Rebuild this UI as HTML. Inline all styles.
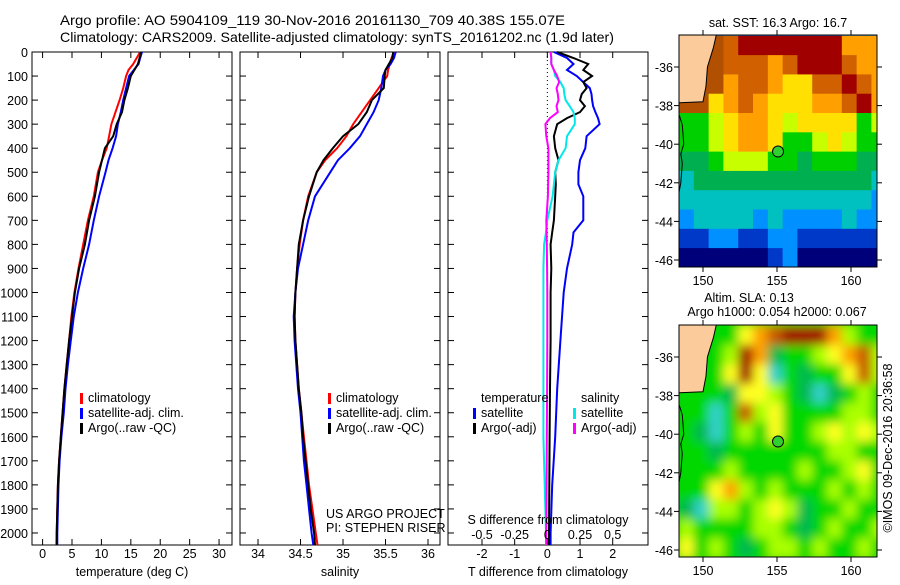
<!DOCTYPE html>
<html><head><meta charset="utf-8"><style>
body{margin:0;background:#fff}
svg text{font-family:"Liberation Sans",sans-serif;font-size:12.5px;fill:#000}
</style></head><body>
<svg id="fig" width="900" height="580" xmlns="http://www.w3.org/2000/svg">
<rect width="900" height="580" fill="#fff"/>
<text x="60" y="25" textLength="505" lengthAdjust="spacingAndGlyphs" style="font-size:14px">Argo profile: AO 5904109_119 30-Nov-2016 20161130_709 40.38S 155.07E</text>
<text x="60" y="42" textLength="554" lengthAdjust="spacingAndGlyphs" style="font-size:14px">Climatology: CARS2009. Satellite-adjusted climatology: synTS_20161202.nc (1.9d later)</text>
<g id="g"></g>
</svg>
<script>
// ---------- data ----------
const depthT = [0,25,50,75,100,150,200,250,300,350,400,450,500,600,700,800,900,1000,1100,1200,1300,1400,1500,1600,1700,1800,1900,2000,2050];
const tempClim = [16.6,16.0,15.4,14.6,14.2,13.7,13.1,12.4,11.7,11.3,10.9,10.1,9.4,8.7,7.7,6.9,6.1,5.4,4.9,4.5,4.1,3.7,3.4,3.1,2.8,2.6,2.5,2.4,2.35];
const tempSat = [16.9,16.6,16.3,15.5,14.7,14.2,13.7,13.3,12.8,12.5,11.9,11.2,10.7,9.6,8.7,7.9,6.9,6.0,5.3,4.8,4.3,3.9,3.6,3.2,2.9,2.7,2.6,2.5,2.5];
const tempArgo = [16.7,16.5,16.2,15.6,15.0,14.5,13.9,13.5,12.6,12.0,10.6,10.1,9.6,8.9,7.9,7.2,6.2,5.5,5.0,4.5,4.1,3.7,3.4,3.1,2.8,2.6,2.5,2.4,2.4];
const salClim = [35.60,35.57,35.55,35.53,35.52,35.42,35.32,35.22,35.12,35.04,34.93,34.79,34.69,34.59,34.53,34.49,34.46,34.44,34.43,34.44,34.46,34.48,34.51,34.54,34.57,34.60,34.64,34.68,34.70];
const salSat = [35.62,35.60,35.56,35.50,35.47,35.45,35.42,35.36,35.28,35.20,35.08,34.94,34.85,34.67,34.59,34.53,34.47,34.44,34.42,34.43,34.45,34.47,34.50,34.52,34.54,34.57,34.60,34.63,34.65];
const salArgo = [35.59,35.58,35.54,35.50,35.49,35.48,35.34,35.28,35.18,35.00,34.88,34.77,34.69,34.60,34.53,34.48,34.46,34.44,34.43,34.44,34.46,34.48,34.51,34.53,34.56,34.59,34.62,34.66,34.67];
const depthD = [0,25,50,75,100,125,150,175,200,225,250,275,300,350,400,450,500,550,600,700,750,800,900,1000,1200,1400,1600,1800,2000,2050];
const dTsat = [0.2,0.6,0.8,0.6,0.9,1.1,1.3,1.35,1.37,1.4,1.47,1.55,1.6,1.2,1.16,1.0,0.95,0.95,1.1,1.1,0.8,0.76,0.6,0.5,0.4,0.3,0.24,0.15,0.1,0.1];
const dTargo = [0.3,0.8,1.25,1.1,1.37,1.1,1.2,1.05,1.0,1.15,1.0,0.6,0.3,0.2,0.24,0.34,0.24,0.26,0.24,0.2,0.15,0.1,0.12,0.1,0.1,0.08,0.07,0.06,0.05,0.05];
const dSsat = [0.025,0.03,0.03,0.05,0.06,0.1,0.125,0.13,0.14,0.17,0.2,0.21,0.21,0.15,0.14,0.085,0.06,0.05,0.04,0,-0.01,-0.025,-0.03,-0.03,-0.03,-0.03,-0.03,-0.02,-0.01,-0.01];
const dSargo = [0.025,0.03,0.03,0.05,0.075,0.09,0.07,0.08,0.085,0.07,0.08,0.02,-0.015,-0.008,0.008,0.008,0.008,0.006,0.004,-0.008,-0.006,-0.004,-0.002,0,0,-0.002,-0.004,-0.006,-0.008,-0.008];
const tTicks = [0,5,10,15,20,25,30];
const sTicks = [34,34.5,35,35.5,36];
const dTicksT = [-2,-1,0,1,2];
const dTicksS = [-0.5,-0.25,0,0.25,0.5];
const depthTicks = [0,100,200,300,400,500,600,700,800,900,1000,1100,1200,1300,1400,1500,1600,1700,1800,1900,2000];
const lonTicks = [150,155,160];
const latTicks = [-36,-38,-40,-42,-44,-46];
const argoLon = 155.07, argoLat = -40.38;
// map grids: rows lat -34.4 -> -46.4 (1 deg), cols lon 148.4 -> 161.8; -1 = near-coast water
const sstGrid = [
[-1,-1,-1,9,10,10,10,10,10,10,10,8,8,8],
[-1,-1,-1,9,9,9,8,9,10,10,10,9,8,8],
[-1,-1,-1,8,9,9,8,7,7,9,9,10,9,8],
[-1,-1,7,8,9,8,7,7,7,8,8,9,10,8],
[5,5,6,7,8,8,7,6,7,7,7,7,5,6],
[5,5,6,7,8,8,7,5,5,6,7,6,5,5],
[4,4,5,6,6,6,5,5,4,5,5,5,4,4],
[3,4,4,4,4,4,4,4,4,4,4,4,4,3],
[3,3,3,3,3,3,3,3,3,3,3,3,3,2],
[2,3,3,3,3,2,3,2,2,2,2,3,2,2],
[1,1,2,2,1,1,2,2,1,1,1,1,1,1],
[0,0,0,0,0,0,1,2,0,0,0,0,0,0]];
const slaGrid = [
[-1,-1,-1,2,4,5,6,7,7,7,5,3,2,2],
[-1,-1,-1,3,7,5,1,2,2,3,4,5,6,3],
[-1,-1,-1,4,7,4,0,2,1,2,2,4,6,3],
[-1,-1,2,1,4,4,3,2,1,0,1,2,3,2],
[2,2,0,2,6,3,4,2,2,2,2,3,3,2],
[2,1,0,2,3,2,4,2,2,3,4,3,4,3],
[2,2,1,2,2,2,2,2,2,2,3,3,2,2],
[2,2,2,3,2,2,2,2,3,2,2,3,4,2],
[2,2,4,5,3,2,3,2,2,2,3,2,3,2],
[1,0,3,3,2,3,4,3,1,2,2,3,2,2],
[3,2,2,2,2,3,3,2,1,2,3,2,2,3],
[4,2,3,2,1,2,3,3,2,3,2,2,3,2]];
const sstColors = ["#00007a","#0038c8","#0090ff","#00c0c0","#00b050","#00d000","#c8ff00","#ffe000","#ffa000","#d06000","#a00000"];
const slaColors = ["#30d0c8","#00b850","#00d800","#a8ff00","#ffff20","#ffa000","#c85800","#a00000"];

// ---------- drawing ----------
const NS="http://www.w3.org/2000/svg", G=document.getElementById('g');
function el(tag,attrs,parent,txt){const e=document.createElementNS(NS,tag);for(const k in attrs)e.setAttribute(k,attrs[k]);if(txt!==undefined)e.textContent=txt;(parent||G).appendChild(e);return e;}
const Y0=52,Y1=545,DMAX=2050;
const yD=d=>Y0+d/DMAX*(Y1-Y0);
function panel(name,x0,x1,lo,hi,ticks,labels){
  const g=el('g',{});
  const sx=v=>x0+(v-lo)/(hi-lo)*(x1-x0);
  el('rect',{x:x0,y:Y0,width:x1-x0,height:Y1-Y0,fill:'none',stroke:'#000','stroke-width':1},g);
  depthTicks.forEach(d=>{el('line',{x1:x0,x2:x0+6,y1:yD(d),y2:yD(d),stroke:'#000'},g);el('line',{x1:x1-6,x2:x1,y1:yD(d),y2:yD(d),stroke:'#000'},g);});
  ticks.forEach((t,i)=>{el('line',{x1:sx(t),x2:sx(t),y1:Y0,y2:Y0+6,stroke:'#000'},g);el('line',{x1:sx(t),x2:sx(t),y1:Y1-6,y2:Y1,stroke:'#000'},g);
    const tx=el('text',{x:sx(t),y:558,'text-anchor':'middle'},g,labels?labels[i]:String(t));});
  return sx;
}
function line(name,sx,vals,depths,color,w){
  const p=vals.map((v,i)=>sx(v).toFixed(1)+','+yD(depths[i]).toFixed(1)).join(' ');
  const e=el('polyline',{points:p,fill:'none',stroke:color,'stroke-width':w||2});
  
}
function legend(x,y,items){items.forEach((it,i)=>{el('rect',{x:x,y:y+i*15-9,width:3,height:11,fill:it[1]});const t=el('text',{x:x+8,y:y+i*15},G,it[0]);});}

depthTicks.forEach(d=>{const t=el('text',{x:28,y:yD(d)+5,'text-anchor':'end'},G,String(d));});

const sxT=panel('temperature-panel',32,232,-1.8,32.2,tTicks);
line('temp-climatology',sxT,tempClim,depthT,'#f00');
line('temp-satellite-adj',sxT,tempSat,depthT,'#0000ff');
line('temp-argo',sxT,tempArgo,depthT,'#000');
legend(80,402,[['climatology','#f00'],['satellite-adj. clim.','#00f'],['Argo(..raw -QC)','#000']]);
el('text',{x:132,y:576,'text-anchor':'middle',},G,'temperature (deg C)');

const sxS=panel('salinity-panel',240,440,33.788,36.141,sTicks);
line('sal-climatology',sxS,salClim,depthT,'#f00');
line('sal-satellite-adj',sxS,salSat,depthT,'#0000ff');
line('sal-argo',sxS,salArgo,depthT,'#000');
legend(328,402,[['climatology','#f00'],['satellite-adj. clim.','#00f'],['Argo(..raw -QC)','#000']]);
el('text',{x:326,y:518,},G,'US ARGO PROJECT');
el('text',{x:326,y:532,},G,'PI: STEPHEN RISER');
el('text',{x:340,y:576,'text-anchor':'middle',},G,'salinity');

const sxD=panel('difference-panel',448,648,-3.04,3.08,dTicksT);
const sxDS=v=>sxD(v*4);
el('line',{x1:sxD(0),x2:sxD(0),y1:Y0,y2:yD(800),stroke:'#000','stroke-dasharray':'1,3'});
line('dT-satellite',sxD,dTsat,depthD,'#0000ff');
line('dT-argo',sxD,dTargo,depthD,'#000');
line('dS-satellite',sxDS,dSsat,depthD,'#00e8e8');
line('dS-argo',sxDS,dSargo,depthD,'#ff00ff');
el('text',{x:481,y:402},G,'temperature');
legend(473,417,[['satellite','#00f'],['Argo(-adj)','#000']]);
el('text',{x:581,y:402},G,'salinity');
legend(573,417,[['satellite','#00e8e8'],['Argo(-adj)','#f0f']]);
el('text',{x:548,y:524,'text-anchor':'middle',},G,'S difference from climatology');
dTicksS.forEach(s=>{const t=el('text',{x:sxDS(s),y:539,'text-anchor':'middle'},G,String(s));});
el('text',{x:548,y:576,'text-anchor':'middle',},G,'T difference from climatology');

function map(name,top,bottom,grid,colors,coastCol,blur,yl36,yl46){
  const L=679,R=877,LON0=148.4;
  const lx=v=>703+(v-150)*14.8;
  const ly=v=>yl36+(-36-v)/10*(yl46-yl36);
  const g=el('g',{});
  const id='clip'+name;
  const defs=el('defs',{},g);const cp=el('clipPath',{id:id},defs);el('rect',{x:L,y:top,width:R-L,height:bottom-top},cp);
  if(blur){const f=el('filter',{id:'bl'+name,x:'-10%',y:'-10%',width:'120%',height:'120%'},defs);el('feGaussianBlur',{stdDeviation:blur},f);}
  const cg=el('g',{'clip-path':'url(#'+id+')'},g);
  const fg=el('g',blur?{filter:'url(#bl'+name+')'}:{},cg);
  el('rect',{x:L-10,y:top-10,width:R-L+20,height:bottom-top+20,fill:colors[2]},fg);
  grid.forEach((row,r)=>row.forEach((c,k)=>{const x=lx(LON0+k),y=ly(-34.4-r);
    const cell=el('rect',{x:x-0.3,y:y-0.3,width:lx(LON0+k+1)-x+0.6,height:ly(-35.4-r)-y+0.6,fill:c<0?coastCol:colors[c]},fg);
    }));
  const land=[[148,-34],[151.0,-34],[150.7,-35],[150.3,-36],[150.2,-37],[150.0,-37.8],[148.4,-37.85],[148,-37.85]];
  el('polygon',{points:land.map(p=>lx(p[0])+','+ly(p[1])).join(' '),fill:'#fccb9c',stroke:'#000','stroke-width':1},cg);
  const coast=[[148.4,-38.5],[148.6,-39],[148.7,-40],[148.5,-40.5],[148.6,-41],[148.5,-42],[148.3,-42.8]];
  el('polyline',{points:coast.map(p=>lx(p[0])+','+ly(p[1])).join(' '),fill:'none',stroke:'#000','stroke-width':1},cg);
  el('rect',{x:L,y:top,width:R-L,height:bottom-top,fill:'none',stroke:'#000'},g);
  lonTicks.forEach(v=>{el('line',{x1:lx(v),x2:lx(v),y1:top,y2:top-5,stroke:'#000'},g);el('line',{x1:lx(v),x2:lx(v),y1:bottom,y2:bottom+5,stroke:'#000'},g);
    el('text',{x:lx(v),y:bottom+18,'text-anchor':'middle'},g,String(v));});
  latTicks.forEach(v=>{el('line',{x1:L-5,x2:L,y1:ly(v),y2:ly(v),stroke:'#000'},g);el('line',{x1:R,x2:R+5,y1:ly(v),y2:ly(v),stroke:'#000'},g);
    el('text',{x:L-6,y:ly(v)+5,'text-anchor':'end'},g,String(v));});
  const m=el('circle',{cx:lx(argoLon),cy:ly(argoLat),r:5.5,fill:'#30d030',stroke:'#000'},g);
  
}
el('text',{x:778,y:27,'text-anchor':'middle',},G,'sat. SST: 16.3 Argo: 16.7');
map('sst-map',35,267,sstGrid,sstColors,'#b05000',0,67,260);
el('text',{x:749,y:302,'text-anchor':'middle',},G,'Altim. SLA: 0.13');
el('text',{x:777,y:316,'text-anchor':'middle',},G,'Argo h1000: 0.054 h2000: 0.067');
map('sla-map',325,557,slaGrid,slaColors,'#00d800',5,357,550);
el('text',{x:0,y:0,transform:'translate(892,448) rotate(-90)','text-anchor':'middle',},G,'©IMOS 09-Dec-2016 20:36:58');
</script>
</body></html>
